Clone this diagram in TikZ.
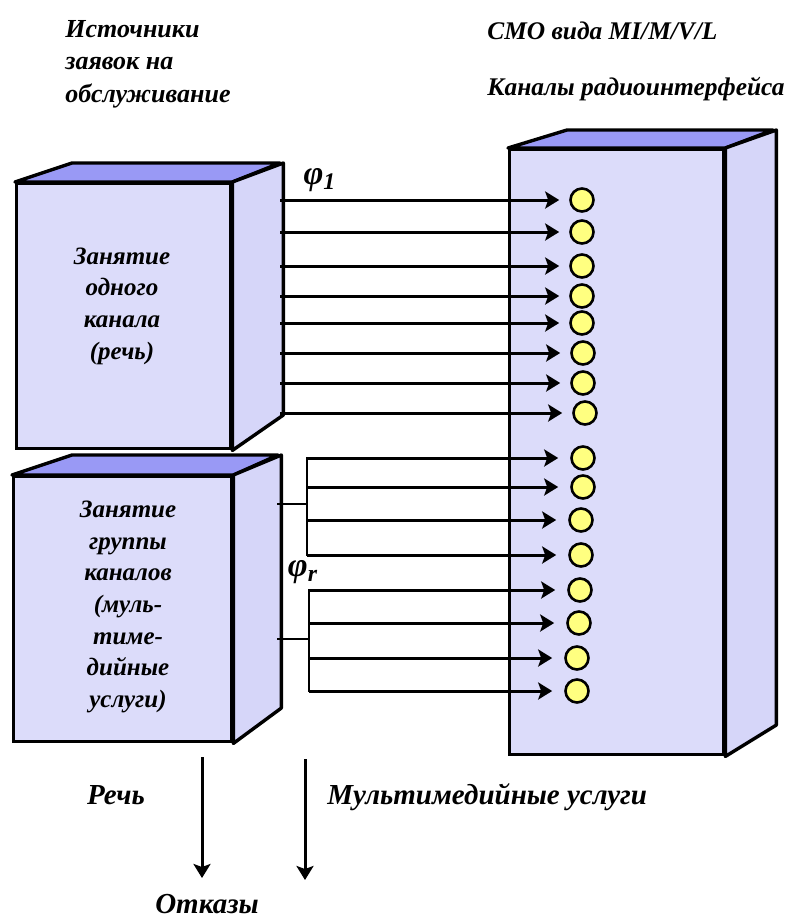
\documentclass[tikz,border=0pt]{standalone}
\usepackage{fontspec}
\setmainfont{Liberation Serif}
\usetikzlibrary{arrows.meta}

\definecolor{frontface}{HTML}{DCDCFA}
\definecolor{topface}{HTML}{9999F5}
\definecolor{sideface}{HTML}{D6D6F9}
\definecolor{slotyellow}{HTML}{FFFF80}

\tikzset{
  face/.style={draw, line width=1.7pt, fill=frontface, rectangle, inner sep=0pt},
  edge/.style={draw, line width=1.7pt, line join=round},
  flow/.style={line width=1.5pt, -{Stealth[length=7pt, width=8.5pt, inset=1.5pt]}},
  wire/.style={line width=1.3pt, line cap=rect},
  slot/.style={circle, draw, line width=1.3pt, fill=slotyellow, minimum size=11.5pt, inner sep=0pt},
  lbl/.style={inner sep=0pt, font=\bfseries\itshape\fontsize{12.7}{16.3}\selectfont},
  biglbl/.style={inner sep=0pt, font=\bfseries\itshape\fontsize{14.5}{17}\selectfont},
  greek/.style={inner sep=0pt, font=\bfseries\itshape\fontsize{17}{20}\selectfont},
  boxtext/.style={font=\bfseries\itshape\fontsize{12.5}{15.8}\selectfont, align=center},
}

\begin{document}
\begin{tikzpicture}[x=0.5pt, y=-0.5pt]
  \useasboundingbox (0,0) rectangle (790,917);

  % sources of requests
  \node[face, minimum width=107pt, minimum height=132.5pt, anchor=north west] (src1) at (15,182) {};
  \filldraw[edge, fill=topface] (src1.north west) -- ++(57,-19) -- ++(208,0) -- (src1.north east) -- cycle;
  \filldraw[edge, fill=sideface] (src1.north east) -- ++(51,-19) -- ++(0,252) -- (src1.south east) -- cycle;
  \node[boxtext] (txt1) at (122,306) {Занятие\\одного\\канала\\(речь)};

  \node[face, minimum width=109pt, minimum height=132.5pt, anchor=north west] (src2) at (12,475) {};
  \filldraw[edge, fill=topface] (src2.north west) -- ++(60,-20) -- ++(206,0) -- (src2.north east) -- cycle;
  \filldraw[edge, fill=sideface] (src2.north east) -- ++(48,-20) -- ++(0,253) -- (src2.south east) -- cycle;
  \node[boxtext] (txt2) at (128,607) {Занятие\\группы\\каналов\\(муль-\\тиме-\\дийные\\услуги)};

  % queueing system
  \node[face, minimum width=107pt, minimum height=302.5pt, anchor=north west] (smo) at (508,148) {};
  \filldraw[edge, fill=topface] (smo.north west) -- ++(59,-18) -- ++(206,0) -- (smo.north east) -- cycle;
  \filldraw[edge, fill=sideface] (smo.north east) -- ++(51,-18) -- ++(0,595) -- (smo.south east) -- cycle;

  % channels
  \foreach \i/\x/\y in {1/582/200, 2/582/232, 3/582/266, 4/582/296, 5/582/323, 6/583/353, 7/583/383, 8/585/413,
                        9/583/458, 10/583/487, 11/581/520, 12/581/555, 13/580/590, 14/579/623, 15/577/658, 16/577/691}
    \node[slot] (k\i) at (\x,\y) {};

  \coordinate (s1) at (280,200);
  \coordinate (s2) at (278,504);
  \coordinate (j1) at (307,504);
  \coordinate (j2) at (309,639);

  \foreach \i in {1,...,8}
    \draw[flow] (s1 |- k\i) -- ([xshift=-5pt]k\i.west);

  \draw[wire] (s2 |- j1) -- (j1);
  \draw[wire] (s2 |- j2) -- (j2);
  \draw[wire] (j1 |- k9) -- (j1 |- k12);
  \draw[wire] (j2 |- k13) -- (j2 |- k16);
  \foreach \i in {9,...,12}
    \draw[flow] (j1 |- k\i) -- ([xshift=-6pt]k\i.west);
  \foreach \i in {13,...,16}
    \draw[flow] (j2 |- k\i) -- ([xshift=-6pt]k\i.west);

  \node[greek] (phi1) at (320,180) {φ\textsubscript{1}};
  \node[greek] (phir) at (303,572) {φ\textsubscript{r}};

  % headings
  \node[lbl, font=\bfseries\itshape\fontsize{13}{16.3}\selectfont, anchor=west, align=left] (srcs) at (65,64) {Источники\\заявок на\\обслуживание};
  \node[lbl, anchor=west] (kind) at (487,31) {СМО вида MI/M/V/L};
  \node[lbl, anchor=west] (chan) at (487,89) {Каналы радиоинтерфейса};

  % rejections
  \coordinate (r1) at (202,757);
  \coordinate (r1e) at (202,878);
  \coordinate (r2) at (305,759);
  \coordinate (r2e) at (305,880);
  \draw[flow] (r1) -- (r1e);
  \draw[flow] (r2) -- (r2e);
  \node[biglbl] (speech) at (116,795) {Речь};
  \node[biglbl, anchor=west] (mm) at (327,797) {Мультимедийные услуги};
  \node[biglbl] (rej) at (207,904) {Отказы};
\end{tikzpicture}
\end{document}
